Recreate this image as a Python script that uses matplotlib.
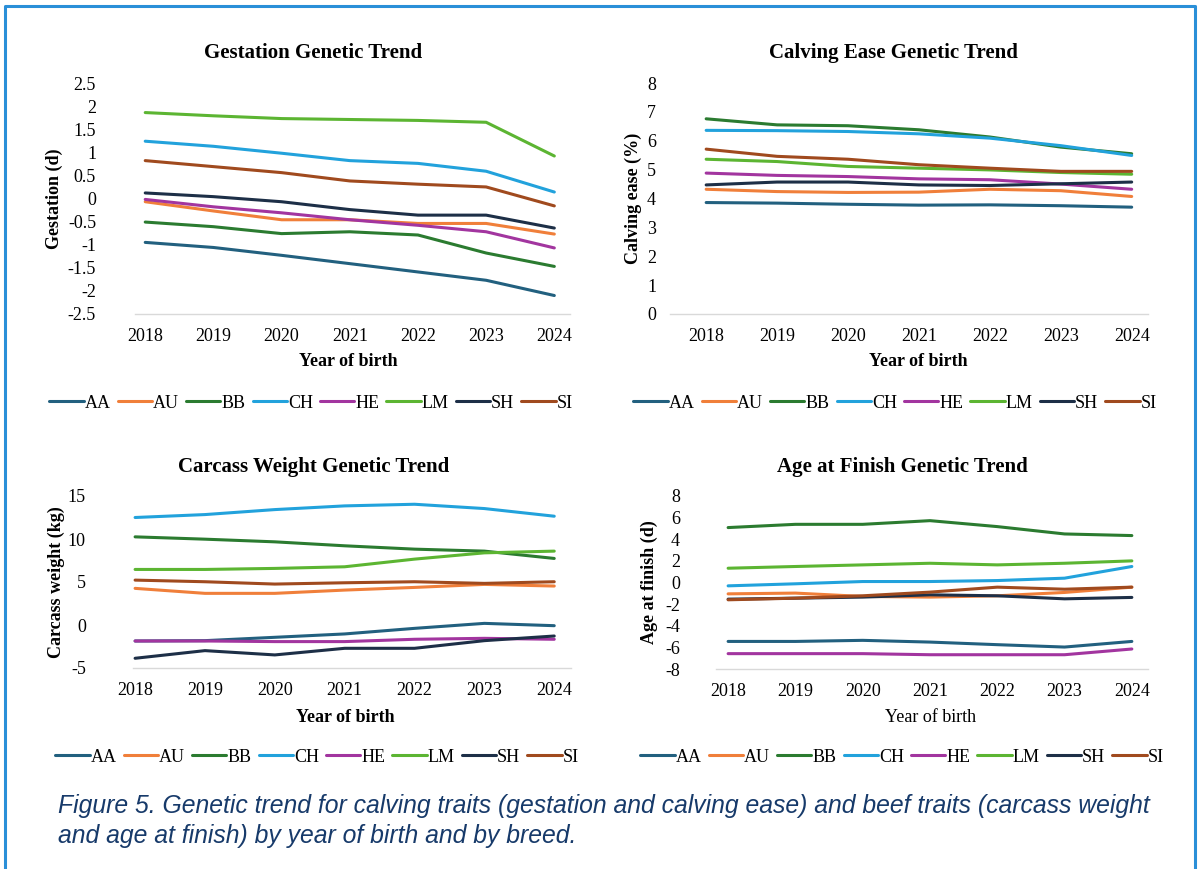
from matplotlib import pyplot as plt
from matplotlib.lines import Line2D
import numpy as np

years = [2018, 2019, 2020, 2021, 2022, 2023, 2024]
breeds = ['AA', 'AU', 'BB', 'CH', 'HE', 'LM', 'SH', 'SI']
colors = ['#22607f', '#f07f3a', '#2b7b30', '#22a2dc', '#a2359f', '#5cb532', '#1d2f47', '#a04a1e']

# rows follow the order of breeds
gestation = [
    [-0.95, -1.06, -1.23, -1.41, -1.59, -1.77, -2.10],
    [-0.07, -0.27, -0.46, -0.46, -0.54, -0.54, -0.77],
    [-0.51, -0.61, -0.76, -0.72, -0.79, -1.18, -1.47],
    [1.24, 1.13, 0.98, 0.82, 0.76, 0.59, 0.14],
    [-0.02, -0.18, -0.31, -0.46, -0.58, -0.72, -1.07],
    [1.86, 1.79, 1.73, 1.71, 1.69, 1.65, 0.92],
    [0.12, 0.04, -0.07, -0.24, -0.36, -0.36, -0.64],
    [0.82, 0.69, 0.56, 0.38, 0.31, 0.25, -0.16],
]
calving_ease = [
    [3.86, 3.84, 3.80, 3.77, 3.78, 3.75, 3.70],
    [4.32, 4.24, 4.21, 4.22, 4.32, 4.27, 4.07],
    [6.76, 6.55, 6.52, 6.38, 6.13, 5.78, 5.55],
    [6.36, 6.35, 6.32, 6.24, 6.09, 5.83, 5.49],
    [4.88, 4.80, 4.76, 4.68, 4.65, 4.50, 4.32],
    [5.36, 5.28, 5.11, 5.05, 4.99, 4.90, 4.84],
    [4.47, 4.57, 4.57, 4.47, 4.45, 4.51, 4.57],
    [5.71, 5.46, 5.36, 5.17, 5.05, 4.94, 4.94],
]
carcass_weight = [
    [-1.86, -1.82, -1.43, -1.04, -0.39, 0.19, -0.08],
    [4.26, 3.68, 3.68, 4.06, 4.37, 4.72, 4.53],
    [10.25, 9.98, 9.67, 9.21, 8.82, 8.59, 7.74],
    [12.50, 12.84, 13.42, 13.85, 14.04, 13.54, 12.65],
    [-1.86, -1.86, -1.93, -1.93, -1.66, -1.55, -1.66],
    [6.46, 6.46, 6.58, 6.77, 7.66, 8.39, 8.59],
    [-3.87, -2.98, -3.48, -2.71, -2.71, -1.82, -1.28],
    [5.22, 5.03, 4.76, 4.91, 5.03, 4.84, 5.03],
]
age_at_finish = [
    [-5.45, -5.45, -5.35, -5.51, -5.75, -5.97, -5.45],
    [-1.05, -0.98, -1.29, -1.35, -1.23, -0.92, -0.43],
    [5.08, 5.38, 5.38, 5.72, 5.17, 4.49, 4.34],
    [-0.31, -0.12, 0.09, 0.09, 0.18, 0.40, 1.48],
    [-6.58, -6.58, -6.58, -6.68, -6.68, -6.68, -6.15],
    [1.32, 1.48, 1.63, 1.78, 1.63, 1.78, 2.00],
    [-1.54, -1.45, -1.35, -1.14, -1.23, -1.51, -1.38],
    [-1.60, -1.45, -1.23, -0.89, -0.43, -0.62, -0.43],
]

W, H = 1200, 869
serif = 'Liberation Serif'

fig = plt.figure(figsize=(W / 100, H / 100), dpi=100)


def fx(px):
    return px / W


def fy(py):
    return 1 - py / H


def panel(rect, data, xlim, ylim, yticks, ypad, title, title_xy, ylabel, ylab_x,
          xlab_xy, xbold, leg_xy):
    left, top, right, bottom = rect
    ax = fig.add_axes([fx(left), fy(bottom), (right - left) / W, (bottom - top) / H])
    for vals, c, b in zip(data, colors, breeds):
        ax.plot(years, vals, color=c, lw=2.2, label=b, solid_capstyle='round')
    ax.set_xlim(*xlim)
    ax.set_ylim(*ylim)
    ax.set_xticks(years)
    ax.set_yticks(yticks)
    ax.set_yticklabels(['%g' % t for t in yticks])
    ax.tick_params(length=0, labelsize=13)
    ax.tick_params(axis='x', pad=10)
    ax.tick_params(axis='y', pad=ypad)
    for lab in ax.get_xticklabels() + ax.get_yticklabels():
        lab.set_fontfamily(serif)
    for s in ['top', 'right', 'left']:
        ax.spines[s].set_visible(False)
    ax.spines['bottom'].set_color('#d9d9d9')
    ax.spines['bottom'].set_linewidth(1)

    fig.text(fx(title_xy[0]), fy(title_xy[1]), title, fontfamily=serif, fontweight='bold',
             fontsize=15, ha='center', va='center')
    fig.text(fx(xlab_xy[0]), fy(xlab_xy[1]), 'Year of birth', fontfamily=serif, fontsize=13,
             fontweight='bold' if xbold else 'normal', ha='center', va='center')
    fig.text(fx(ylab_x), fy((top + bottom) / 2), ylabel, fontfamily=serif, fontweight='bold',
             fontsize=13, rotation=90, ha='center', va='center')

    ax.legend(loc='center', bbox_to_anchor=(fx(leg_xy[0]), fy(leg_xy[1])),
              bbox_transform=fig.transFigure, ncol=8, frameon=False,
              prop={'family': serif, 'size': 13},
              handlelength=1.9, handletextpad=0.05, columnspacing=0.4)
    return ax


panel((135, 83, 570, 314), gestation, (2017.85, 2024.23), (-2.5, 2.5),
      np.arange(-2.5, 2.6, 0.5), 28, 'Gestation Genetic Trend', (313, 53),
      'Gestation (d)', 54, (348, 361), True, (311, 403))
panel((670, 83, 1148, 314), calving_ease, (2017.49, 2024.23), (0, 8),
      np.arange(0, 9, 1), 10, 'Calving Ease Genetic Trend', (893, 53),
      'Calving ease (%)', 633, (918, 361), True, (895, 403))
panel((133, 496, 571, 668), carcass_weight, (2017.97, 2024.24), (-5, 15),
      np.arange(-5, 16, 5), 34, 'Carcass Weight Genetic Trend', (314, 467),
      'Carcass weight (kg)', 56, (345, 717), True, (317, 757))
panel((716, 496, 1148, 669), age_at_finish, (2017.82, 2024.24), (-8, 8),
      np.arange(-8, 9, 2), 26, 'Age at Finish Genetic Trend', (902, 467),
      'Age at finish (d)', 649, (931, 718), False, (902, 757))

# caption
caption_style = dict(fontfamily='Liberation Sans', style='italic', fontsize=17.8,
                     color='#173a6a', va='center')
fig.text(fx(58), fy(806), 'Figure 5. Genetic trend for calving traits (gestation and calving ease) and beef traits (carcass weight',
         **caption_style)
fig.text(fx(58), fy(836), 'and age at finish) by year of birth and by breed.', **caption_style)

# blue frame on left, top and right
frame = '#2a8fd8'
fig.add_artist(Line2D([fx(5), fx(5), fx(1195), fx(1195)], [0, fy(6), fy(6), 0],
                      color=frame, lw=2.2, transform=fig.transFigure))

fig.savefig('out.png', dpi=100)
